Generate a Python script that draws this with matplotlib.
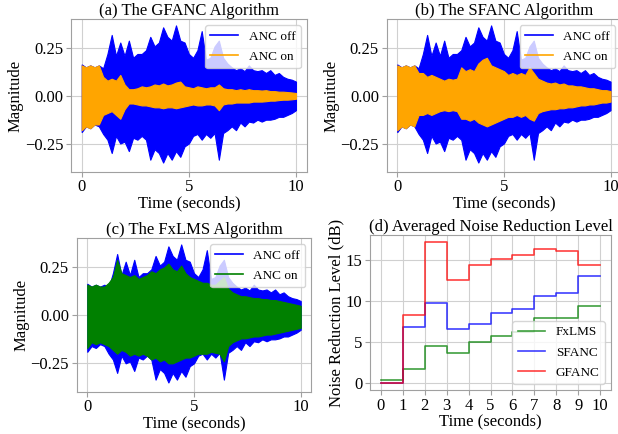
import numpy as np
import matplotlib
matplotlib.use("Agg")
import matplotlib.pyplot as plt
from matplotlib.lines import Line2D

plt.rcParams['font.family'] = ['Liberation Serif', 'DejaVu Serif']
plt.rcParams['mathtext.fontset'] = 'stix'

# envelope of the waveforms, read every 0.2 s
t_env = np.round(np.arange(0, 10.01, 0.2), 1)

off_up = [0.165, 0.15, 0.16, 0.15, 0.16, 0.145, 0.22, 0.32, 0.21, 0.28,
          0.21, 0.29, 0.20, 0.22, 0.22, 0.24, 0.31, 0.26, 0.28, 0.36,
          0.31, 0.29, 0.37, 0.29, 0.28, 0.22, 0.20, 0.24, 0.34, 0.19,
          0.20, 0.26, 0.29, 0.20, 0.17, 0.15, 0.135, 0.145, 0.13, 0.16,
          0.135, 0.13, 0.135, 0.12, 0.135, 0.11, 0.12, 0.10, 0.09, 0.085,
          0.075]
off_lo = [-0.19, -0.16, -0.17, -0.15, -0.16, -0.20, -0.23, -0.30, -0.21, -0.25,
          -0.24, -0.29, -0.22, -0.23, -0.21, -0.23, -0.335, -0.28, -0.30, -0.35,
          -0.30, -0.335, -0.29, -0.32, -0.265, -0.25, -0.21, -0.20, -0.23, -0.20,
          -0.22, -0.195, -0.335, -0.195, -0.18, -0.16, -0.18, -0.14, -0.16, -0.135,
          -0.14, -0.125, -0.135, -0.125, -0.125, -0.12, -0.11, -0.11, -0.10, -0.09,
          -0.075]

gfanc_up = [0.16, 0.15, 0.16, 0.15, 0.16, 0.10, 0.08, 0.09, 0.08, 0.11,
            0.06, 0.035, 0.035, 0.04, 0.05, 0.045, 0.05, 0.06, 0.055, 0.065,
            0.055, 0.06, 0.07, 0.075, 0.05, 0.045, 0.04, 0.05, 0.045, 0.04,
            0.045, 0.045, 0.06, 0.04, 0.035, 0.035, 0.03, 0.035, 0.03, 0.035,
            0.03, 0.03, 0.028, 0.03, 0.025, 0.025, 0.022, 0.022, 0.02, 0.018,
            0.015]
gfanc_lo = [-0.18, -0.16, -0.17, -0.15, -0.15, -0.10, -0.09, -0.08, -0.10, -0.12,
            -0.07, -0.04, -0.04, -0.045, -0.05, -0.05, -0.055, -0.06, -0.06, -0.065,
            -0.06, -0.06, -0.065, -0.06, -0.055, -0.05, -0.045, -0.05, -0.05, -0.045,
            -0.045, -0.05, -0.075, -0.045, -0.04, -0.04, -0.035, -0.035, -0.035, -0.035,
            -0.03, -0.03, -0.03, -0.028, -0.025, -0.025, -0.022, -0.02, -0.02, -0.018,
            -0.015]

sfanc_up = [0.16, 0.15, 0.16, 0.15, 0.16, 0.12, 0.12, 0.10, 0.11, 0.10,
            0.09, 0.08, 0.09, 0.085, 0.09, 0.15, 0.13, 0.14, 0.13, 0.17,
            0.19, 0.20, 0.16, 0.15, 0.14, 0.13, 0.11, 0.12, 0.11, 0.12,
            0.11, 0.15, 0.12, 0.09, 0.08, 0.07, 0.065, 0.07, 0.06, 0.065,
            0.055, 0.055, 0.05, 0.05, 0.045, 0.04, 0.04, 0.035, 0.03, 0.03,
            0.025]
sfanc_lo = [-0.18, -0.16, -0.17, -0.15, -0.16, -0.10, -0.10, -0.09, -0.10, -0.09,
            -0.08, -0.075, -0.08, -0.075, -0.08, -0.12, -0.12, -0.13, -0.12, -0.14,
            -0.15, -0.16, -0.15, -0.14, -0.13, -0.12, -0.11, -0.11, -0.10, -0.11,
            -0.10, -0.12, -0.13, -0.09, -0.08, -0.075, -0.07, -0.07, -0.065, -0.065,
            -0.06, -0.06, -0.055, -0.05, -0.05, -0.045, -0.045, -0.04, -0.035, -0.035,
            -0.03]

fxlms_up = [0.16, 0.15, 0.16, 0.15, 0.15, 0.17, 0.20, 0.29, 0.22, 0.21,
            0.20, 0.21, 0.19, 0.20, 0.21, 0.23, 0.22, 0.24, 0.25, 0.27,
            0.24, 0.23, 0.26, 0.22, 0.20, 0.19, 0.18, 0.17, 0.17, 0.16,
            0.16, 0.18, 0.20, 0.14, 0.12, 0.11, 0.10, 0.10, 0.095, 0.09,
            0.09, 0.085, 0.085, 0.08, 0.08, 0.075, 0.07, 0.065, 0.06, 0.055,
            0.05]
fxlms_lo = [-0.17, -0.14, -0.15, -0.14, -0.15, -0.16, -0.18, -0.20, -0.18, -0.19,
            -0.21, -0.20, -0.21, -0.20, -0.21, -0.23, -0.22, -0.24, -0.23, -0.25,
            -0.25, -0.24, -0.23, -0.22, -0.22, -0.21, -0.20, -0.20, -0.20, -0.19,
            -0.195, -0.20, -0.24, -0.16, -0.14, -0.13, -0.12, -0.12, -0.115, -0.11,
            -0.11, -0.105, -0.10, -0.10, -0.095, -0.09, -0.085, -0.08, -0.075, -0.07,
            -0.065]

# averaged noise reduction per second (dB)
sec = list(range(11))
nr_fxlms = [0.4, 1.7, 4.5, 3.6, 4.95, 5.75, 6.2, 7.9, 7.85, 9.4, 9.4]
nr_sfanc = [0.0, 6.75, 9.77, 6.55, 7.12, 8.48, 9.05, 10.57, 10.9, 12.99, 12.99]
nr_gfanc = [0.0, 8.28, 17.13, 12.46, 14.4, 15.04, 15.6, 16.33, 16.1, 14.4, 14.4]

FS = 12
LFS = 9.5
spine_c = '#a0a0a0'

fig = plt.figure(figsize=(6.18, 4.34), dpi=100)
W, H = 618, 434


def place(l, r, top, bot):
    return [l / W, 1 - bot / H, (r - l) / W, (bot - top) / H]


def style(ax):
    ax.grid(True, color='#d0d0d0', linewidth=0.8)
    ax.set_axisbelow(True)
    for s in ax.spines.values():
        s.set_color(spine_c)
    ax.tick_params(colors=spine_c, labelcolor='black', labelsize=FS, length=3.5, pad=2)


def wave(ax, up_on, lo_on, c_on, title):
    ax.fill_between(t_env, off_lo, off_up, color='blue', lw=0.8, edgecolor='blue')
    ax.fill_between(t_env, lo_on, up_on, color=c_on, lw=0.8, edgecolor=c_on)
    ax.set_xlim(-0.5, 10.5)
    ax.set_ylim(-0.398, 0.402)
    ax.set_xticks([0, 5, 10])
    ax.set_yticks([-0.25, 0.0, 0.25])
    ax.set_yticklabels(['\u22120.25', '0.00', '0.25'])
    ax.set_title(title, fontsize=FS, pad=2)
    ax.set_xlabel('Time (seconds)', fontsize=FS, labelpad=0)
    ax.set_ylabel('Magnitude', fontsize=FS, labelpad=1)
    style(ax)
    handles = [Line2D([], [], color='blue', lw=1.2), Line2D([], [], color=c_on, lw=1.2)]
    ax.legend(handles, ['ANC off', 'ANC on'], loc='upper right', fontsize=LFS,
              borderaxespad=0.45, handlelength=2.1, labelspacing=0.6)


ax1 = fig.add_axes(place(71.0, 306.7, 19.3, 171.7))
wave(ax1, gfanc_up, gfanc_lo, 'orange', '(a) The GFANC Algorithm')

ax2 = fig.add_axes(place(386.6, 621.2, 19.3, 171.7))
wave(ax2, sfanc_up, sfanc_lo, 'orange', '(b) The SFANC Algorithm')

ax3 = fig.add_axes(place(76.6, 311.4, 238.3, 391.7))
wave(ax3, fxlms_up, fxlms_lo, 'green', '(c) The FxLMS Algorithm')

ax4 = fig.add_axes(place(370.0, 611.0, 235.0, 390.0))
ax4.step(sec, nr_fxlms, where='post', color='green', alpha=0.75, lw=1.2, label='FxLMS')
ax4.step(sec, nr_sfanc, where='post', color='blue', alpha=0.75, lw=1.2, label='SFANC')
ax4.step(sec, nr_gfanc, where='post', color='red', alpha=0.75, lw=1.2, label='GFANC')
ax4.set_xlim(-0.5, 10.5)
ax4.set_ylim(-0.86, 17.99)
ax4.set_xticks(sec)
ax4.set_yticks([0, 5, 10, 15])
ax4.set_title('(d) Averaged Noise Reduction Level', fontsize=FS, pad=2)
ax4.set_xlabel('Time (seconds)', fontsize=FS, labelpad=0)
ax4.set_ylabel('Noise Reduction Level (dB)', fontsize=FS, labelpad=1)
style(ax4)
ax4.legend(loc='lower right', fontsize=LFS, borderaxespad=0.45, handlelength=2.1,
           labelspacing=0.6)

fig.savefig('out.png', dpi=100)
